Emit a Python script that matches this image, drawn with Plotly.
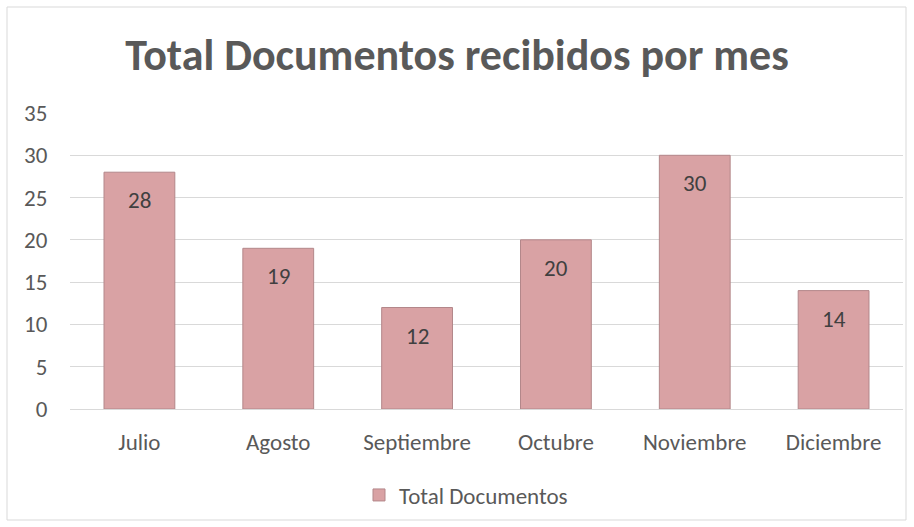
import plotly.graph_objects as go

meses = ["Julio", "Agosto", "Septiembre", "Octubre", "Noviembre", "Diciembre"]
valores = [28, 19, 12, 20, 30, 14]
serie = "Total Documentos"
titulo = "Total Documentos recibidos por mes"

W, H = 914, 527
L, R, T, B = 70, 11, 113, 118
pw, ph = W - L - R, H - T - B

font_family = "Carlito, Calibri, Lato, sans-serif"

fig = go.Figure()
fig.add_trace(go.Bar(
    x=meses, y=valores, name=serie,
    marker=dict(color="#d9a2a4", line=dict(color="#b3878a", width=1)),
    showlegend=True,
))

annotations = [
    dict(x=m, y=v, text=str(v), showarrow=False, yshift=-28,
         font=dict(size=23, color="#404040", family=font_family))
    for m, v in zip(meses, valores)
]

def px_x(p):
    return (p - L) / pw

def px_y(p):
    return (H - B - p) / ph

fig.update_layout(
    width=W, height=H,
    margin=dict(l=L, r=R, t=T, b=B),
    paper_bgcolor="white", plot_bgcolor="white",
    title=dict(text="<b>" + titulo + "</b>", x=0.5, xanchor="center",
               y=1 - 55 / H, yanchor="middle",
               font=dict(size=44, color="#595959", family=font_family)),
    bargap=0.49,
    xaxis=dict(showgrid=False, showline=True, linecolor="#d9d9d9", linewidth=1,
               ticks="outside", ticklen=12, tickcolor="rgba(0,0,0,0)",
               tickfont=dict(size=23, color="#595959", family=font_family)),
    yaxis=dict(range=[0, 35], dtick=5, showgrid=True, gridcolor="#d9d9d9",
               gridwidth=1, zeroline=False, showline=False,
               ticks="outside", ticklen=17, tickcolor="rgba(0,0,0,0)",
               tickfont=dict(size=23, color="#595959", family=font_family)),
    legend=dict(orientation="h", x=px_x(466), xanchor="center", y=px_y(495), yanchor="middle",
                font=dict(size=23, color="#595959", family=font_family),
                itemwidth=30),
    annotations=annotations,
    shapes=[dict(type="rect", xref="paper", yref="paper",
                 x0=px_x(7), x1=px_x(906), y0=px_y(520), y1=px_y(7),
                 line=dict(color="#d9d9d9", width=1), layer="below")],
)

fig.write_html("out.html")
